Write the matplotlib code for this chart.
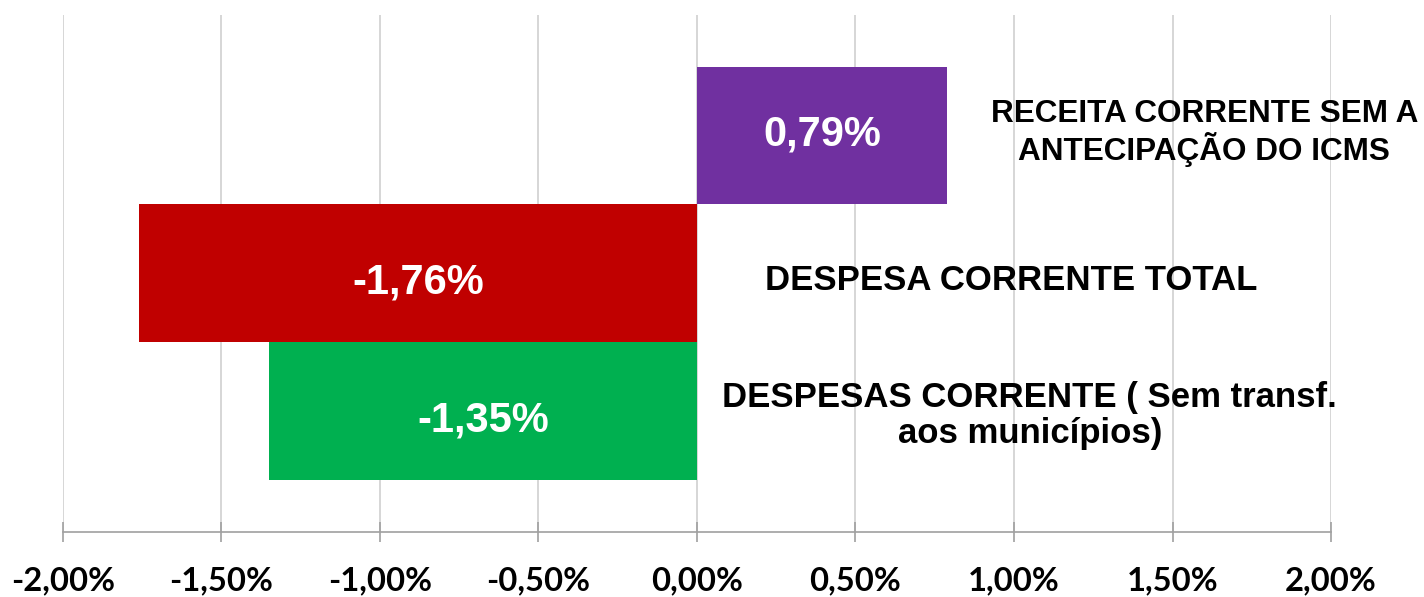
import matplotlib.pyplot as plt

categories = ["DESPESAS CORRENTE ( Sem transf.\naos municípios)",
              "DESPESA CORRENTE TOTAL",
              "RECEITA CORRENTE SEM A\nANTECIPAÇÃO DO ICMS"]
values = [-1.35, -1.76, 0.79]
colors = ["#00B050", "#C00000", "#7030A0"]
ticks = [-2.0, -1.5, -1.0, -0.5, 0.0, 0.5, 1.0, 1.5, 2.0]

# where the category names sit (data coords) and their sizes
label_x = [1.05, 0.99, 1.60]
label_y = [-0.03, 0.95, 2.022]
label_size = [25, 25, 22.7]
value_dy = [-0.065, -0.065, 0.01]

fig = plt.figure(figsize=(14.24, 5.97), dpi=100)
ax = fig.add_axes([0.0442, 0.1089, 0.8905, 0.8662])

pos = list(range(len(values)))
ax.barh(pos, values, height=1.0, color=colors, zorder=2)

for p, v, dy in zip(pos, values, value_dy):
    ax.text(v / 2, p + dy, f"{v:.2f}%".replace(".", ","), ha="center",
            va="center", color="white", fontsize=30, fontweight="bold",
            family="Liberation Sans", zorder=3)

for name, lx, ly, fs in zip(categories, label_x, label_y, label_size):
    ax.text(lx, ly, name, ha="center", va="center", fontsize=fs,
            fontweight="bold", family="Liberation Sans", linespacing=1.1)

ax.set_xlim(-2, 2)
ax.set_ylim(-0.878, 2.877)
ax.set_xticks(ticks)
ax.set_xticklabels([f"{t:.2f}%".replace(".", ",") for t in ticks],
                   fontsize=23.6, fontweight="bold", family="Lato")
ax.set_yticks([])
ax.xaxis.grid(True, color="#cccccc", linewidth=1.1, zorder=0)
ax.tick_params(axis="x", direction="inout", length=15, width=1.2,
               color="#a0a0a0", pad=17)
for s in ["top", "left", "right"]:
    ax.spines[s].set_visible(False)
ax.spines["bottom"].set_color("#a0a0a0")
ax.spines["bottom"].set_linewidth(1.2)

fig.savefig("out.png", dpi=100)
